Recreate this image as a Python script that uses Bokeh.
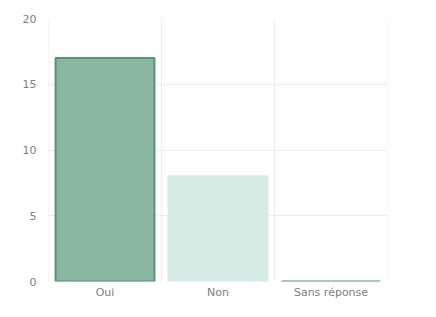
from bokeh.plotting import figure
from bokeh.models import ColumnDataSource, FixedTicker, Range1d, Span
from bokeh.embed import file_html
from bokeh.resources import INLINE

categories = ["Oui", "Non", "Sans réponse"]
values = [17, 8, 0]
fills = ["#8ab7a1", "#d5ebe3", "#8ab7a1"]
borders = ["#5f917a", "#d5ebe3", "#5f917a"]
y_ticks = [0, 5, 10, 15, 20]

src = ColumnDataSource(dict(cat=categories, val=values, fill=fills, line=borders))

p = figure(x_range=categories, y_range=Range1d(0, 20), width=420, height=301,
           output_backend="svg", toolbar_location=None,
           min_border_left=48, min_border_right=33, min_border_top=18, min_border_bottom=0)
p.vbar(x="cat", top="val", width=0.875, source=src, fill_color="fill",
       line_color="line", line_width=2)

p.outline_line_color = None
p.background_fill_color = "white"
p.yaxis.ticker = FixedTicker(ticks=y_ticks)
for ax in (p.xaxis, p.yaxis):
    ax.axis_line_color = None
    ax.major_tick_line_color = None
    ax.minor_tick_line_color = None
    ax.major_tick_out = 0
    ax.major_tick_in = 0
    ax.major_label_text_font = "DejaVu Sans"
    ax.major_label_text_font_size = "11px"
    ax.major_label_text_color = "#808080"
p.yaxis.major_label_standoff = 12
p.xaxis.major_label_standoff = 4
p.ygrid.grid_line_color = "#ececec"
p.xgrid.grid_line_color = None

for loc in [0, 1, 2, 3]:
    p.add_layout(Span(location=loc, dimension="height", line_color="#ececec", line_width=1))

open("out.html", "w").write(file_html(p, INLINE))
